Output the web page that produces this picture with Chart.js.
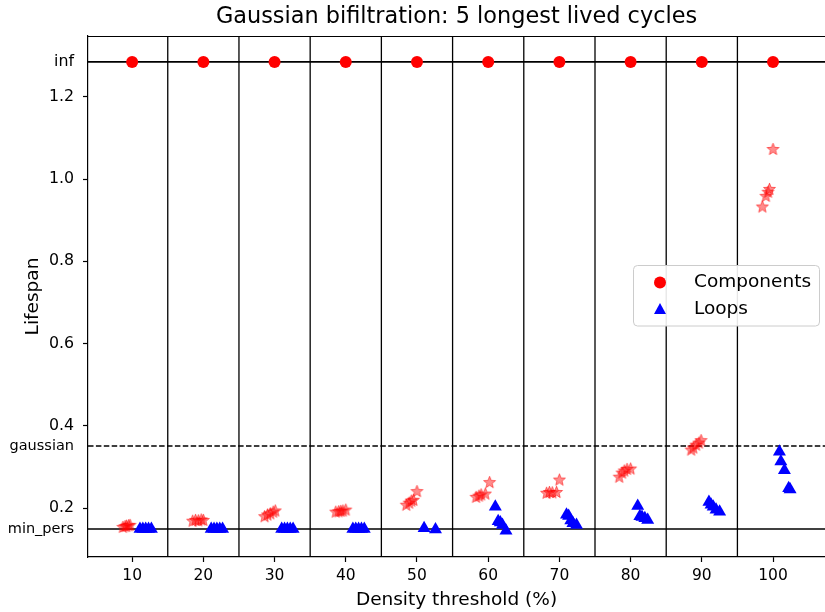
<!DOCTYPE html>
<html>
<head>
<meta charset="utf-8">
<title>Gaussian bifiltration: 5 longest lived cycles</title>
<script src="https://cdn.jsdelivr.net/npm/chart.js"></script>
<style>
    html, body { margin: 0; padding: 0; background: #fff; }
    .chart-box { position: relative; width: 825px; height: 612px; }
</style>
</head>
<body>
<div class="chart-box"><canvas id="cycles-chart" width="825" height="612"></canvas></div>
<script>
// density thresholds (%) and the separators between them
const thresholds = [10, 20, 30, 40, 50, 60, 70, 80, 90, 100];
const dividers = [15, 25, 35, 45, 55, 65, 75, 85, 95];

// special lifespan levels
const infValue = 1.285;
const gaussianLevel = 0.351;
const minPersLevel = 0.149;

const xRange = [3.8, 107.3];
const yRange = [0.081, 1.348];

const xTickValues = thresholds;
const yTickValues = [minPersLevel, 0.2, gaussianLevel, 0.4, 0.6, 0.8, 1.0, 1.2, infValue];
const yTickNames = ['min_pers', '0.2', 'gaussian', '0.4', '0.6', '0.8', '1.0', '1.2', 'inf'];

// finite component lifespans (stars), 5 per threshold
const starX = [
    8.7, 9.0, 9.2, 9.5, 9.7,
    18.5, 18.9, 19.3, 19.7, 20.0,
    28.6, 29.0, 29.4, 29.8, 30.1,
    38.6, 39.0, 39.3, 39.6, 40.0,
    48.5, 48.9, 49.2, 49.5, 50.0,
    58.3, 58.7, 59.0, 59.6, 60.2,
    68.2, 68.6, 69.0, 69.6, 70.0,
    78.4, 78.8, 79.1, 79.5, 80.0,
    88.5, 88.8, 89.2, 89.6, 89.9,
    98.5, 99.0, 99.3, 99.5, 100.0
];
const starY = [
    0.153, 0.155, 0.156, 0.157, 0.158,
    0.168, 0.170, 0.169, 0.171, 0.170,
    0.179, 0.183, 0.186, 0.190, 0.193,
    0.190, 0.191, 0.192, 0.193, 0.195,
    0.207, 0.212, 0.217, 0.219, 0.240,
    0.226, 0.229, 0.232, 0.234, 0.262,
    0.236, 0.238, 0.237, 0.238, 0.268,
    0.275, 0.285, 0.290, 0.294, 0.295,
    0.341, 0.346, 0.353, 0.358, 0.364,
    0.932, 0.958, 0.968, 0.975, 1.072
];

// loop lifespans (triangles)
const loopX = [
    11.1, 11.5, 11.9, 12.3, 12.7,
    21.1, 21.5, 21.9, 22.3, 22.7,
    31.0, 31.4, 31.8, 32.2, 32.6,
    41.0, 41.4, 41.8, 42.2, 42.6,
    51.0, 52.6,
    61.0, 61.4, 61.7, 62.0, 62.5,
    71.0, 71.3, 71.6, 71.9, 72.4,
    81.0, 81.3, 81.6, 82.0, 82.4,
    91.0, 91.3, 91.6, 92.0, 92.5,
    100.9, 101.1, 101.6, 102.2, 102.4
];
const loopY = [
    0.149, 0.149, 0.149, 0.149, 0.149,
    0.149, 0.149, 0.149, 0.149, 0.149,
    0.149, 0.149, 0.149, 0.149, 0.149,
    0.149, 0.149, 0.149, 0.149, 0.149,
    0.151, 0.148,
    0.203, 0.168, 0.165, 0.159, 0.145,
    0.184, 0.181, 0.170, 0.163, 0.159,
    0.205, 0.180, 0.178, 0.175, 0.171,
    0.215, 0.208, 0.203, 0.196, 0.191,
    0.337, 0.313, 0.292, 0.248, 0.245
];

const FONT = "'DejaVu Sans', sans-serif";
Chart.defaults.font.family = FONT;
Chart.defaults.color = '#000';

//matplotlib style filled star marker, half transparent
function makeStar(outer, inner) {
    const size = Math.ceil(outer * 2 + 2);
    const c = document.createElement('canvas');
    c.width = size;
    c.height = size;
    const ctx = c.getContext('2d');
    const cx = size / 2, cy = size / 2;
    ctx.beginPath();
    for (let i = 0; i < 10; i++) {
        const r = i % 2 === 0 ? outer : inner;
        const a = -Math.PI / 2 + i * Math.PI / 5;
        const px = cx + Math.cos(a) * r;
        const py = cy + Math.sin(a) * r;
        if (i === 0) ctx.moveTo(px, py); else ctx.lineTo(px, py);
    }
    ctx.closePath();
    ctx.fillStyle = 'rgba(255, 0, 0, 0.45)';
    ctx.fill();
    ctx.strokeStyle = 'rgba(255, 0, 0, 0.55)';
    ctx.lineWidth = 1;
    ctx.stroke();
    return c;
}
const starMarker = makeStar(6.3, 2.7);

function lineSet(points, dash, width) {
    return {
        type: 'scatter',
        showLine: true,
        data: points,
        borderColor: '#000',
        borderWidth: width || 1.3,
        borderDash: dash || [],
        pointRadius: 0,
        order: 10
    };
}

const datasets = [];
dividers.forEach(d => {
    datasets.push(lineSet([{x: d, y: yRange[0]}, {x: d, y: yRange[1]}]));
});
datasets.push(lineSet([{x: xRange[0], y: infValue}, {x: xRange[1], y: infValue}], null, 1.6));
datasets.push(lineSet([{x: xRange[0], y: gaussianLevel}, {x: xRange[1], y: gaussianLevel}], [5.5, 2.4], 1.5));
datasets.push(lineSet([{x: xRange[0], y: minPersLevel}, {x: xRange[1], y: minPersLevel}], null, 1.5));

datasets.push({
    label: 'Components',
    data: thresholds.map(t => ({x: t, y: infValue})),
    pointStyle: 'circle',
    pointRadius: 6,
    pointBackgroundColor: '#ff0000',
    pointBorderWidth: 0,
    order: 0
});
datasets.push({
    label: 'stars',
    data: starX.map((x, i) => ({x: x, y: starY[i]})),
    pointStyle: starMarker,
    order: 1
});
datasets.push({
    label: 'Loops',
    data: loopX.map((x, i) => ({x: x, y: loopY[i]})),
    pointStyle: 'triangle',
    pointRadius: 7.5,
    pointBackgroundColor: '#0000ff',
    pointBorderWidth: 0,
    order: 0
});

//title over the plot area, top spine and the boxed legend
const decorations = {
    id: 'decorations',
    afterDraw(chart) {
        const ctx = chart.ctx;
        const area = chart.chartArea;
        ctx.save();

        ctx.strokeStyle = '#000';
        ctx.lineWidth = 1.2;
        ctx.beginPath();
        ctx.moveTo(area.left, area.top + 0.5);
        ctx.lineTo(area.right, area.top + 0.5);
        ctx.stroke();

        ctx.fillStyle = '#000';
        ctx.font = "22.4px " + FONT;
        ctx.textAlign = 'center';
        ctx.textBaseline = 'middle';
        ctx.fillText('Gaussian bifiltration: 5 longest lived cycles', (area.left + area.right) / 2, 17);

        const lx = 633.5, ly = 265.5, lw = 186, lh = 60.5;
        ctx.beginPath();
        ctx.roundRect(lx, ly, lw, lh, 4);
        ctx.fillStyle = 'rgba(255, 255, 255, 0.9)';
        ctx.fill();
        ctx.strokeStyle = '#cccccc';
        ctx.lineWidth = 1;
        ctx.stroke();

        ctx.fillStyle = '#ff0000';
        ctx.beginPath();
        ctx.arc(660, 282.5, 6, 0, Math.PI * 2);
        ctx.fill();

        ctx.fillStyle = '#0000ff';
        ctx.beginPath();
        ctx.moveTo(660, 303);
        ctx.lineTo(666, 314);
        ctx.lineTo(654, 314);
        ctx.closePath();
        ctx.fill();

        ctx.fillStyle = '#000';
        ctx.font = "18.5px " + FONT;
        ctx.textAlign = 'left';
        ctx.fillText('Components', 694, 282.5);
        ctx.fillText('Loops', 694, 309.5);
        ctx.restore();
    }
};

const specialTicks = [minPersLevel, gaussianLevel, infValue];

const chartContext = document.getElementById('cycles-chart').getContext('2d');
const cyclesChart = new Chart(chartContext, {
    type: 'scatter',
    data: { datasets: datasets },
    options: {
        responsive: false,
        animation: false,
        layout: { autoPadding: false, padding: { top: 36, right: 0, left: 0, bottom: 0 } },
        plugins: {
            legend: { display: false },
            tooltip: { enabled: false },
            title: { display: false }
        },
        scales: {
            x: {
                type: 'linear',
                min: xRange[0],
                max: xRange[1],
                afterBuildTicks: scale => {
                    scale.ticks = xTickValues.map(v => ({ value: v }));
                },
                afterFit: scale => {
                    scale.height = 55;
                    scale.paddingLeft = 0;
                    scale.paddingRight = 0;
                },
                ticks: {
                    autoSkip: false,
                    maxRotation: 0,
                    padding: 5,
                    color: '#000',
                    font: { size: 15.5 },
                    callback: v => String(v)
                },
                grid: {
                    drawOnChartArea: false,
                    drawTicks: true,
                    tickLength: 5,
                    tickColor: '#000',
                    tickWidth: 1.2
                },
                border: { color: '#000', width: 1.2 },
                title: {
                    display: true,
                    text: 'Density threshold (%)',
                    color: '#000',
                    font: { size: 18.5 },
                    padding: { top: 0, bottom: 1 }
                }
            },
            y: {
                type: 'linear',
                min: yRange[0],
                max: yRange[1],
                afterBuildTicks: scale => {
                    scale.ticks = yTickValues.map(v => ({ value: v }));
                },
                afterFit: scale => {
                    scale.width = 88;
                    scale.paddingTop = 0;
                    scale.paddingBottom = 0;
                },
                ticks: {
                    autoSkip: false,
                    padding: 9,
                    color: '#000',
                    font: ctx => {
                        const v = ctx.tick ? ctx.tick.value : null;
                        return { size: (v === minPersLevel || v === gaussianLevel) ? 14.5 : 15.8 };
                    },
                    callback: v => {
                        const idx = yTickValues.indexOf(v);
                        return idx >= 0 ? yTickNames[idx] : '';
                    }
                },
                grid: {
                    drawOnChartArea: false,
                    drawTicks: true,
                    tickLength: 5,
                    tickWidth: 1.2,
                    tickColor: ctx => (ctx.tick && specialTicks.includes(ctx.tick.value)) ? 'rgba(0,0,0,0)' : '#000'
                },
                border: { color: '#000', width: 1.2 },
                title: {
                    display: true,
                    text: 'Lifespan',
                    color: '#000',
                    font: { size: 18.5 },
                    padding: { top: 22, bottom: 0 }
                }
            }
        }
    },
    plugins: [decorations]
});
</script>
</body>
</html>
